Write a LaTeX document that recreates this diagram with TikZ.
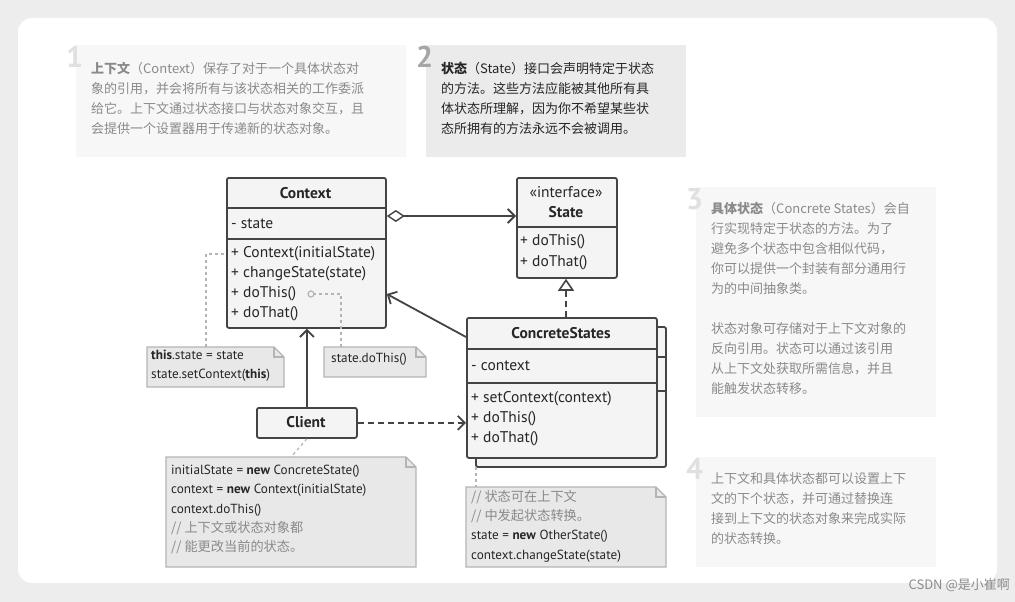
\documentclass[tikz,border=0pt]{standalone}
\usepackage{fontspec}
\setmainfont{PT Sans}
\newfontfamily\cjk{Noto Sans CJK SC}
\usetikzlibrary{arrows.meta}
\definecolor{bord}{HTML}{444444}
\definecolor{fillb}{HTML}{F4F4F4}
\definecolor{notef}{HTML}{E8E8E8}
\definecolor{noteb}{HTML}{B4B4B4}
\definecolor{txtl}{HTML}{8A8A8A}
\tikzset{
 umlbox/.style={draw=bord,fill=fillb,line width=1.8pt,rounded corners=2pt,anchor=north west,inner sep=0pt},
 conn/.style={draw=bord,line width=1.8pt},
 dots/.style={draw=noteb,line width=1.2pt,dash pattern=on 3pt off 3pt},
 mtxt/.style={anchor=west,inner sep=0pt,font=\fontsize{15.5}{17}\selectfont,text=black!85},
 ntxt/.style={anchor=north west,inner sep=0pt,align=left,font=\fontsize{13.2}{19.3}\selectfont,text=black!85},
 btxt/.style={anchor=north west,inner sep=0pt,align=left,font=\cjk\fontsize{13}{20}\selectfont},
 bignum/.style={anchor=north west,inner sep=0pt,font=\bfseries\fontsize{30}{30}\selectfont},
}
\newcommand{\notebox}[5]{% name, x1,y1,x2,y2
 \fill[notef] (#2,#3) -- ({#4-10},#3) -- (#4,{#3+10}) -- (#4,#5) -- (#2,#5) -- cycle;
 \draw[noteb,line width=1.4pt] (#2,#3) -- ({#4-10},#3) -- (#4,{#3+10}) -- (#4,#5) -- (#2,#5) -- cycle;
 \draw[noteb,line width=1.2pt] ({#4-10},#3) -- ({#4-10},{#3+10}) -- (#4,{#3+10});
 \coordinate (#1) at ({(#2+#4)/2},#3);
}
\begin{document}
\begin{tikzpicture}[x=1pt,y=-1pt]
\useasboundingbox (0,0) rectangle (1015,602);
\fill[black!7] (0,0) rectangle (1015,602);
\fill[white,rounded corners=14pt] (18,18) rectangle (997,583);
% text blocks
\fill[black!3] (76,45) rectangle (406,157);
\node[bignum,text=black!12] (n1) at (66,46) {1};
\node[btxt,text=txtl] (b1) at (91,62) {\textbf{上下文}（Context）保存了对于一个具体状态对\\象的引用，并会将所有与该状态相关的工作委派\\给它。上下文通过状态接口与状态对象交互，且\\会提供一个设置器用于传递新的状态对象。};
\fill[black!8] (426,45) rectangle (686,157);
\node[bignum,text=black!35] (n2) at (416,46) {2};
\node[btxt,text=black!85] (b2) at (441,62) {\textbf{状态}（State）接口会声明特定于状态\\的方法。这些方法应能被其他所有具\\体状态所理解，因为你不希望某些状\\态所拥有的方法永远不会被调用。};
\fill[black!3] (696,187) rectangle (936,417);
\node[bignum,text=black!12] (n3) at (686,188) {3};
\node[btxt,text=txtl] (b3) at (711,202) {\textbf{具体状态}（Concrete States）会自\\行实现特定于状态的方法。为了\\避免多个状态中包含相似代码，\\你可以提供一个封装有部分通用行\\为的中间抽象类。\\[20pt]状态对象可存储对于上下文对象的\\反向引用。状态可以通过该引用\\从上下文处获取所需信息，并且\\能触发状态转移。};
\fill[black!3] (696,457) rectangle (936,567);
\node[bignum,text=black!12] (n4) at (686,458) {4};
\node[btxt,text=txtl] (b4) at (711,472) {上下文和具体状态都可以设置上下\\文的下个状态，并可通过替换连\\接到上下文的状态对象来完成实际\\的状态转换。};
% Context
\node[umlbox,minimum width=159,minimum height=150] (ctx) at (226,177) {};
\draw[conn] (226,208) -- (385,208) (226,239) -- (385,239);
\node[mtxt,font=\bfseries\fontsize{15.5}{17}\selectfont,anchor=center] (ctxt) at (305.5,193) {Context};
\node[mtxt] (cs1) at (231,224) {- state};
\node[mtxt] (cm1) at (231,254) {+ Context(initialState)};
\node[mtxt] (cm2) at (231,274) {+ changeState(state)};
\node[mtxt] (cm3) at (231,294) {+ doThis()};
\node[mtxt] (cm4) at (231,314) {+ doThat()};
% State
\node[umlbox,minimum width=100,minimum height=100] (st) at (516,177) {};
\draw[conn] (516,227) -- (616,227);
\node[mtxt,anchor=center] (sti) at (566,192) {«interface»};
\node[mtxt,font=\bfseries\fontsize{15.5}{17}\selectfont,anchor=center] (stn) at (566,212) {State};
\node[mtxt] (sm1) at (520,242) {+ doThis()};
\node[mtxt] (sm2) at (520,263) {+ doThat()};
% ConcreteStates with shadow
\draw[conn,fill=fillb,rounded corners=2pt] (476,327) rectangle (666,467);
\draw[conn] (656,357) -- (666,357) (656,391) -- (666,391);
\node[umlbox,minimum width=190,minimum height=140] (cs) at (466,317) {};
\draw[conn] (466,349) -- (656,349) (466,383) -- (656,383);
\node[mtxt,font=\bfseries\fontsize{15.5}{17}\selectfont,anchor=center] (cst) at (561,333) {ConcreteStates};
\node[mtxt] (csa) at (471,366) {- context};
\node[mtxt] (csm1) at (471,399) {+ setContext(context)};
\node[mtxt] (csm2) at (471,419) {+ doThis()};
\node[mtxt] (csm3) at (471,439) {+ doThat()};
% Client
\node[umlbox,minimum width=100,minimum height=30] (cl) at (256,407) {};
\node[mtxt,font=\bfseries\fontsize{15.5}{17}\selectfont,anchor=center] (clt) at (306,422) {Client};
% connectors
\draw[conn,{Diamond[open,length=18,width=12,line width=1.4pt]}-{Straight Barb[length=7,width=14,line width=1.8pt]}] (ctx.east|-0,216) -- (st.west|-0,216);
\draw[conn,-{Straight Barb[length=7,width=14,line width=1.8pt]}] (cs.west|-0,337) -- (ctx.east|-0,294);
\draw[conn,dash pattern=on 6pt off 4pt,-{Triangle[open,length=12,width=16,line width=1.6pt]}] (cs.north-|566,0) -- (st.south-|566,0);
\draw[conn,-{Straight Barb[length=7,width=14,line width=1.8pt]}] (cl.north) -- (ctx.south-|cl.north);
\draw[conn,dash pattern=on 6pt off 4pt,-{Straight Barb[length=7,width=14,line width=1.8pt]}] (cl.east) -- (cs.west|-cl.east);
% notes
\notebox{nt1}{147}{347}{284}{387}
\node[ntxt] (t1) at (151,350) {\textbf{this}.state = state\\state.setContext(\textbf{this})};
\notebox{nt2}{324}{347}{426}{377}
\node[ntxt] (t2) at (331,353) {state.doThis()};
\notebox{nt3}{166}{457}{416}{567}
\node[ntxt] (t3) at (171,465) {initialState = \textbf{new} ConcreteState()\\context = \textbf{new} Context(initialState)\\context.doThis()\\{\color{txtl}\cjk // 上下文或状态对象都}\\{\color{txtl}\cjk // 能更改当前的状态。}};
\notebox{nt4}{466}{487}{666}{567}
\node[ntxt] (t4) at (471,490) {{\color{txtl}\cjk // 状态可在上下文}\\{\color{txtl}\cjk // 中发起状态转换。}\\state = \textbf{new} OtherState()\\context.changeState(state)};
\coordinate (p1) at (206,347);
\draw[dots] (p1) -- (206,254) -- (ctx.west|-0,254);
\coordinate (p2) at (341,347);
\draw[dots] (p2) -- (341,294) -- (314,294);
\draw[noteb,line width=1.2pt] (311,294) circle (3);
\draw[dots] (cl.south) -- (nt3|-0,457);
\coordinate (p4) at (476,467);
\draw[dots] (p4) -- (476,487);
\node[anchor=south east,inner sep=0pt,font=\cjk\fontsize{13}{13}\selectfont,text=black!45] (wm) at (1010,592) {CSDN @是小崔啊};
\end{tikzpicture}
\end{document}
